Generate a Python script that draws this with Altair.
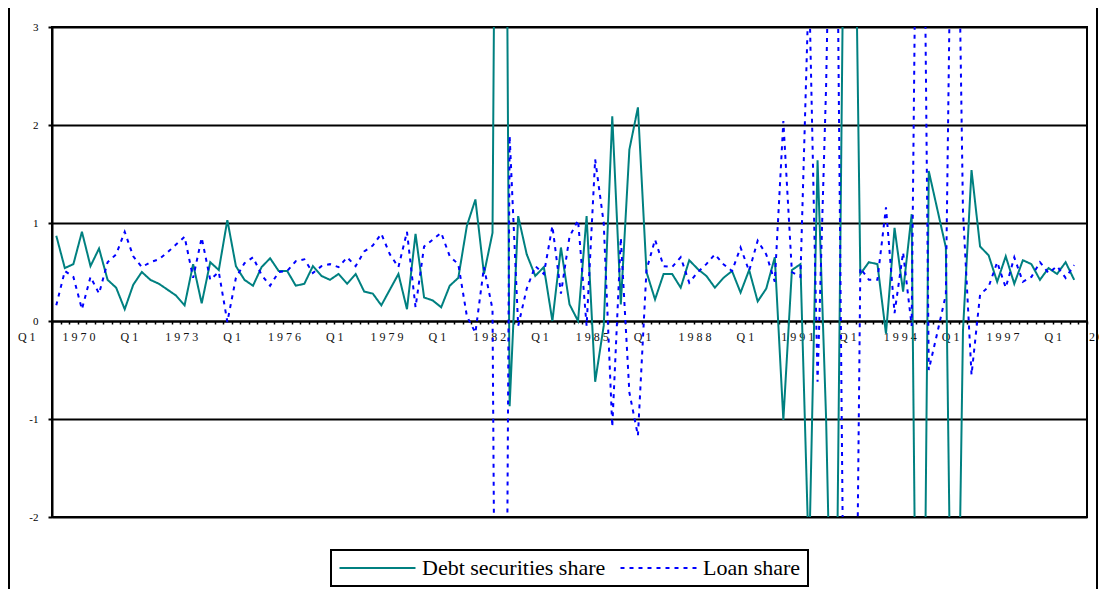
import altair as alt
import pandas as pd

# ---- data ----
series_names = ["Debt securities share", "Loan share"]
label_years = ["1970", "1973", "1976", "1979", "1982", "1985", "1988", "1991", "1994", "1997", "2000"]

debt_share = [
    0.87, 0.54, 0.58, 0.91, 0.56, 0.74, 0.42, 0.34, 0.12, 0.37,
    0.50, 0.42, 0.38, 0.32, 0.26, 0.16, 0.58, 0.18, 0.60, 0.52,
    1.03, 0.56, 0.42, 0.36, 0.55, 0.64, 0.51, 0.51, 0.36, 0.38,
    0.56, 0.46, 0.42, 0.48, 0.38, 0.48, 0.30, 0.28, 0.16, 0.32,
    0.48, 0.12, 0.89, 0.24, 0.21, 0.14, 0.36, 0.44, 0.97, 1.24,
    0.48, 0.90, 14.0, -0.87, 1.07, 0.68, 0.46, 0.55, 0.00, 0.75,
    0.17, 0.00, 1.07, -0.62, -0.05, 2.09, 0.17, 1.75, 2.18, 0.50,
    0.22, 0.48, 0.48, 0.34, 0.62, 0.53, 0.46, 0.34, 0.44, 0.51,
    0.29, 0.52, 0.20, 0.33, 0.65, -1.01, 0.52, 0.58, -2.5, 1.64,
    -1.0, -5.0, 3.7, 7.0, 0.48, 0.60, 0.58, -0.13, 0.95, 0.30,
    1.09, -8.0, 1.53, 1.14, 0.75, -6.0, -0.10, 1.54, 0.76, 0.67,
    0.40, 0.66, 0.38, 0.62, 0.58, 0.42, 0.54, 0.48, 0.60, 0.42,
]

loan_share = [
    0.16, 0.51, 0.45, 0.12, 0.45, 0.28, 0.60, 0.68, 0.91, 0.66,
    0.55, 0.60, 0.63, 0.70, 0.78, 0.86, 0.44, 0.85, 0.42, 0.50,
    -0.01, 0.44, 0.59, 0.65, 0.47, 0.36, 0.50, 0.51, 0.61, 0.63,
    0.49, 0.56, 0.58, 0.55, 0.65, 0.56, 0.71, 0.77, 0.89, 0.68,
    0.55, 0.91, 0.14, 0.76, 0.83, 0.90, 0.66, 0.58, 0.05, -0.12,
    0.55, 0.12, -13.0, 1.89, -0.05, 0.33, 0.56, 0.48, 0.97, 0.28,
    0.86, 1.03, -0.05, 1.65, 1.00, -1.08, 0.85, -0.73, -1.17, 0.52,
    0.83, 0.56, 0.55, 0.65, 0.39, 0.50, 0.58, 0.68, 0.58, 0.51,
    0.75, 0.51, 0.82, 0.68, 0.40, 2.04, 0.50, 0.45, 3.5, -0.62,
    2.4, 7.0, -2.7, -8.0, 0.54, 0.42, 0.42, 1.16, 0.08, 0.70,
    -0.05, 8.6, -0.50, -0.12, 0.27, 7.0, 1.12, -0.55, 0.27, 0.35,
    0.60, 0.34, 0.65, 0.40, 0.45, 0.60, 0.49, 0.56, 0.44, 0.57,
]

n_categories = 121  # 1970 Q1 ... 2000 Q1

rows = []
for name, vals in zip(series_names, [debt_share, loan_share]):
    for i, v in enumerate(vals):
        rows.append({"q": i, "value": v, "series": name})
df = pd.DataFrame(rows)

# ---- axis labels ----
NB = "\u00a0"


def spaced(s):
    return NB.join(list(s))


boundaries = [k - 0.5 for k in range(0, n_categories + 1)]
expr = "''"
for m, yr in reversed(list(enumerate(label_years))):
    txt = spaced("Q1") + NB * 9 + spaced(yr)
    expr = f"datum.value == {12 * m - 0.5} ? '{txt}' : ({expr})"

W, H = 1035, 490
cat_w = W / n_categories

x_scale = alt.Scale(domain=[-0.5, n_categories - 0.5], nice=False, zero=False)
y_scale = alt.Scale(domain=[-2, 3], nice=False)


def make_legend():
    return alt.Legend(
        title=None,
        orient="none",
        legendX=279,
        legendY=523,
        direction="horizontal",
        symbolType="M-1,0H7",
        symbolSize=361,
        symbolStrokeWidth=2,
        labelFont="Liberation Serif",
        labelFontSize=22,
        labelColor="black",
        labelLimit=0,
        labelOffset=62,
        columnPadding=10,
        padding=7,
        strokeColor="black",
    )


lines = alt.Chart(df).mark_line(clip=True, strokeJoin="miter").encode(
    x=alt.X(
        "q:Q",
        scale=x_scale,
        axis=alt.Axis(
            values=boundaries,
            labelExpr=expr,
            labelOffset=cat_w / 2,
            tickSize=3,
            tickWidth=1.5,
            tickColor="black",
            domainColor="black",
            domainWidth=2,
            offset=-H * 2 / 5,
            grid=False,
            labelFont="Liberation Serif",
            labelFontSize=12,
            labelColor="#111111",
            labelOverlap=False,
            labelBound=False,
            labelFlush=False,
            labelAngle=0,
            labelPadding=7,
            title=None,
        ),
    ),
    y=alt.Y(
        "value:Q",
        scale=y_scale,
        axis=alt.Axis(
            values=[-2, -1, 0, 1, 2, 3],
            labelExpr="replace(toString(datum.value), '\u2212', '-')",
            grid=True,
            gridColor="black",
            gridWidth=2,
            gridOpacity=1,
            tickSize=4,
            tickColor="black",
            tickWidth=2,
            domainColor="black",
            domainWidth=2,
            labelFont="Liberation Serif",
            labelFontSize=11,
            labelColor="black",
            labelPadding=10,
            title=None,
        ),
    ),
    color=alt.Color(
        "series:N",
        scale=alt.Scale(domain=series_names, range=["#008080", "#0000FF"]),
        legend=make_legend(),
    ),
    strokeDash=alt.StrokeDash(
        "series:N",
        scale=alt.Scale(domain=series_names, range=[[1, 0], [4, 5]]),
        legend=make_legend(),
    ),
    strokeWidth=alt.value(2),
    order="q:Q",
)

frame_data = alt.Data(values=[{"side": "left"}])
frame_left = alt.Chart(frame_data).mark_rule(color="black", strokeWidth=2, clip=False).encode(
    x=alt.value(-43), y=alt.value(-19), y2=alt.value(H + 72)
)
frame_right = alt.Chart(frame_data).mark_rule(color="black", strokeWidth=2, clip=False).encode(
    x=alt.value(W + 10), y=alt.value(-19), y2=alt.value(H + 72)
)

chart = (
    alt.layer(lines, frame_left, frame_right)
    .properties(
        width=W,
        height=H,
        padding={"left": 44, "top": 19, "right": 12, "bottom": 72},
        autosize=alt.AutoSizeParams(type="none"),
        background="white",
    )
    .configure_view(stroke="black", strokeWidth=2)
    .configure_legend(strokeWidth=2)
)

chart.save("out.html", embed_options={"renderer": "svg", "actions": False})
